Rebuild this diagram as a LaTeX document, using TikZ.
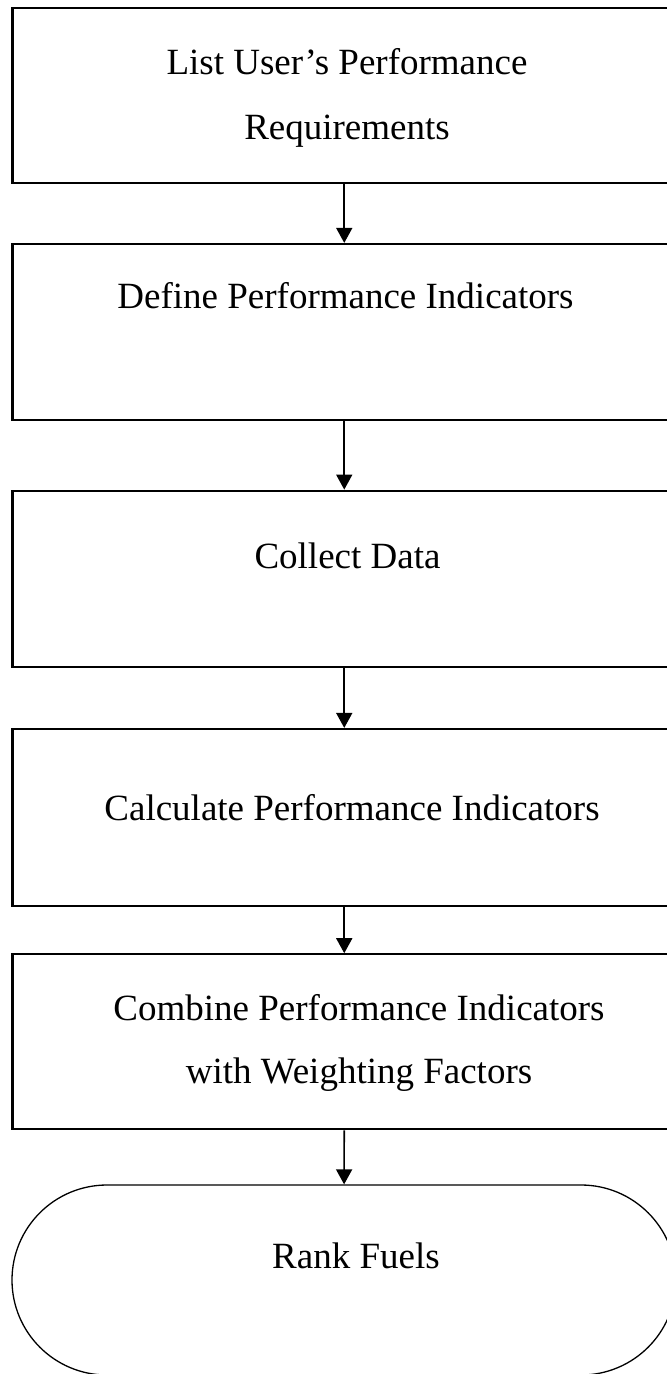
\documentclass[tikz,border=0pt]{standalone}
\usepackage{fontspec}
\setmainfont{Liberation Serif}
\usetikzlibrary{arrows.meta}
\begin{document}
\begin{tikzpicture}[x=0.5pt,y=-0.5pt,
  box/.style={draw, line width=1.1pt, minimum width=331.75pt, inner sep=0pt},
  term/.style={draw, line width=0.65pt, minimum width=332pt, minimum height=95pt, inner sep=0pt, rounded corners=47.5pt},
  lbl/.style={anchor=base, inner sep=0pt, font=\fontsize{18.5}{32.5}\selectfont},
  arr/.style={-{Triangle[length=7.5pt,width=8pt]}, line width=0.85pt}]
\useasboundingbox (0,0) rectangle (667,1374);
\clip (0,0) rectangle (667,1374);
\fill[white] (0,0) rectangle (667,1374);

\node[box, minimum height=87.8pt] (b1) at (344.25,95.5) {};
\node[box, minimum height=88pt]   (b2) at (344.25,332) {};
\node[box, minimum height=88pt]   (b3) at (344.25,578.7) {};
\node[box, minimum height=88.5pt] (b4) at (344.25,817.5) {};
\node[box, minimum height=87.5pt] (b5) at (344.25,1041.8) {};
\node[term] (b6) at (344,1280) {};

\node[lbl] (t1a) at (347,75) {List User’s Performance};
\node[lbl] (t1b) at (347,140) {Requirements};
\node[lbl] (t2) at (345.5,308) {Define Performance Indicators};
\node[lbl] (t3) at (347.5,568) {Collect Data};
\node[lbl] (t4) at (352,820) {Calculate Performance Indicators};
\node[lbl] (t5a) at (359,1020) {Combine Performance Indicators};
\node[lbl] (t5b) at (359,1083) {with Weighting Factors};
\node[lbl] (t6) at (356,1268) {Rank Fuels};

\draw[arr] (b1) -- (b2);
\draw[arr] (b2) -- (b3);
\draw[arr] (b3) -- (b4);
\draw[arr] (b4) -- (b5);
\draw[arr] (b5) -- (b6);
\end{tikzpicture}
\end{document}
